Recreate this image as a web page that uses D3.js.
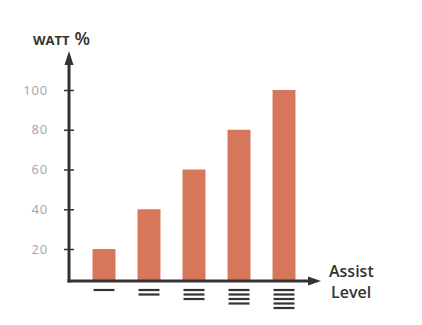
<!DOCTYPE html>
<html>
<head>
<meta charset="utf-8">
<script src="https://cdn.jsdelivr.net/npm/d3@7"></script>
<style>
  body { margin: 0; background: #fff; }
  svg { display: block; font-family: "Open Sans", sans-serif; }
</style>
</head>
<body>
<div id="chart"></div>
<script>
// data
var levels = [1, 2, 3, 4, 5];
var watt = [20, 40, 60, 80, 100];
var yTicks = [20, 40, 60, 80, 100];

var W = 422, H = 325;
var axisX = 69, axisY = 281;

var svg = d3.select("#chart").append("svg")
  .attr("width", W).attr("height", H);

var x = d3.scaleBand()
  .domain(levels)
  .range([81.5, 306.5])
  .paddingInner(0.49)
  .paddingOuter(0.245);

var y = d3.scaleLinear()
  .domain([20, 100])
  .range([249, 90]);

var barColor = "#d6775c", ink = "#333";

// bars
svg.append("g").selectAll("rect")
  .data(levels)
  .join("rect")
    .attr("x", d => x(d))
    .attr("width", x.bandwidth())
    .attr("y", (d, i) => y(watt[i]))
    .attr("height", (d, i) => axisY - y(watt[i]))
    .attr("fill", barColor);

// y ticks + labels
var yAxis = svg.append("g")
  .attr("transform", "translate(" + axisX + ",0)")
  .call(d3.axisLeft(y).tickValues(yTicks).tickSize(5).tickPadding(16));
yAxis.select(".domain").remove();
yAxis.selectAll(".tick line").attr("x1", 5).attr("stroke", ink).attr("stroke-width", 1.5);
yAxis.selectAll(".tick text")
  .attr("fill", "#a5a5a5")
  .style("font-size", "13px")
  .style("letter-spacing", "0.8px")
  .style("font-family", "'Open Sans', sans-serif");

// axes lines with arrows
svg.append("line")
  .attr("x1", axisX).attr("x2", axisX)
  .attr("y1", axisY + 1.5).attr("y2", 62)
  .attr("stroke", ink).attr("stroke-width", 3);
svg.append("path")
  .attr("d", "M" + axisX + ",51 L" + (axisX - 4.5) + ",65 L" + (axisX + 4.5) + ",65 Z")
  .attr("fill", ink);

svg.append("line")
  .attr("x1", axisX - 1.5).attr("x2", 312)
  .attr("y1", axisY).attr("y2", axisY)
  .attr("stroke", ink).attr("stroke-width", 3);
svg.append("path")
  .attr("d", "M321," + axisY + " L308," + (axisY - 4.5) + " L308," + (axisY + 4.5) + " Z")
  .attr("fill", ink);

// level indicators under each bar
var ind = svg.append("g");
levels.forEach(function (lv) {
  d3.range(lv).forEach(function (k) {
    ind.append("line")
      .attr("x1", x(lv) + 1).attr("x2", x(lv) + x.bandwidth() - 1)
      .attr("y1", 290 + k * 4.5).attr("y2", 290 + k * 4.5)
      .attr("stroke", ink).attr("stroke-width", 2.2);
  });
});

// titles
var t = svg.append("text")
  .attr("x", 33).attr("y", 45)
  .attr("fill", ink);
t.append("tspan").style("font-size", "13px").style("font-weight", 700).text("WATT");
t.append("tspan").attr("dx", 5).style("font-size", "18px").style("font-weight", 600).text("%");

svg.append("text")
  .attr("x", 329).attr("y", 277)
  .attr("fill", ink)
  .style("font-size", "16px").style("font-weight", 600)
  .text("Assist");
svg.append("text")
  .attr("x", 331).attr("y", 298)
  .attr("fill", ink)
  .style("font-size", "16px").style("font-weight", 600)
  .text("Level");
</script>
</body>
</html>
